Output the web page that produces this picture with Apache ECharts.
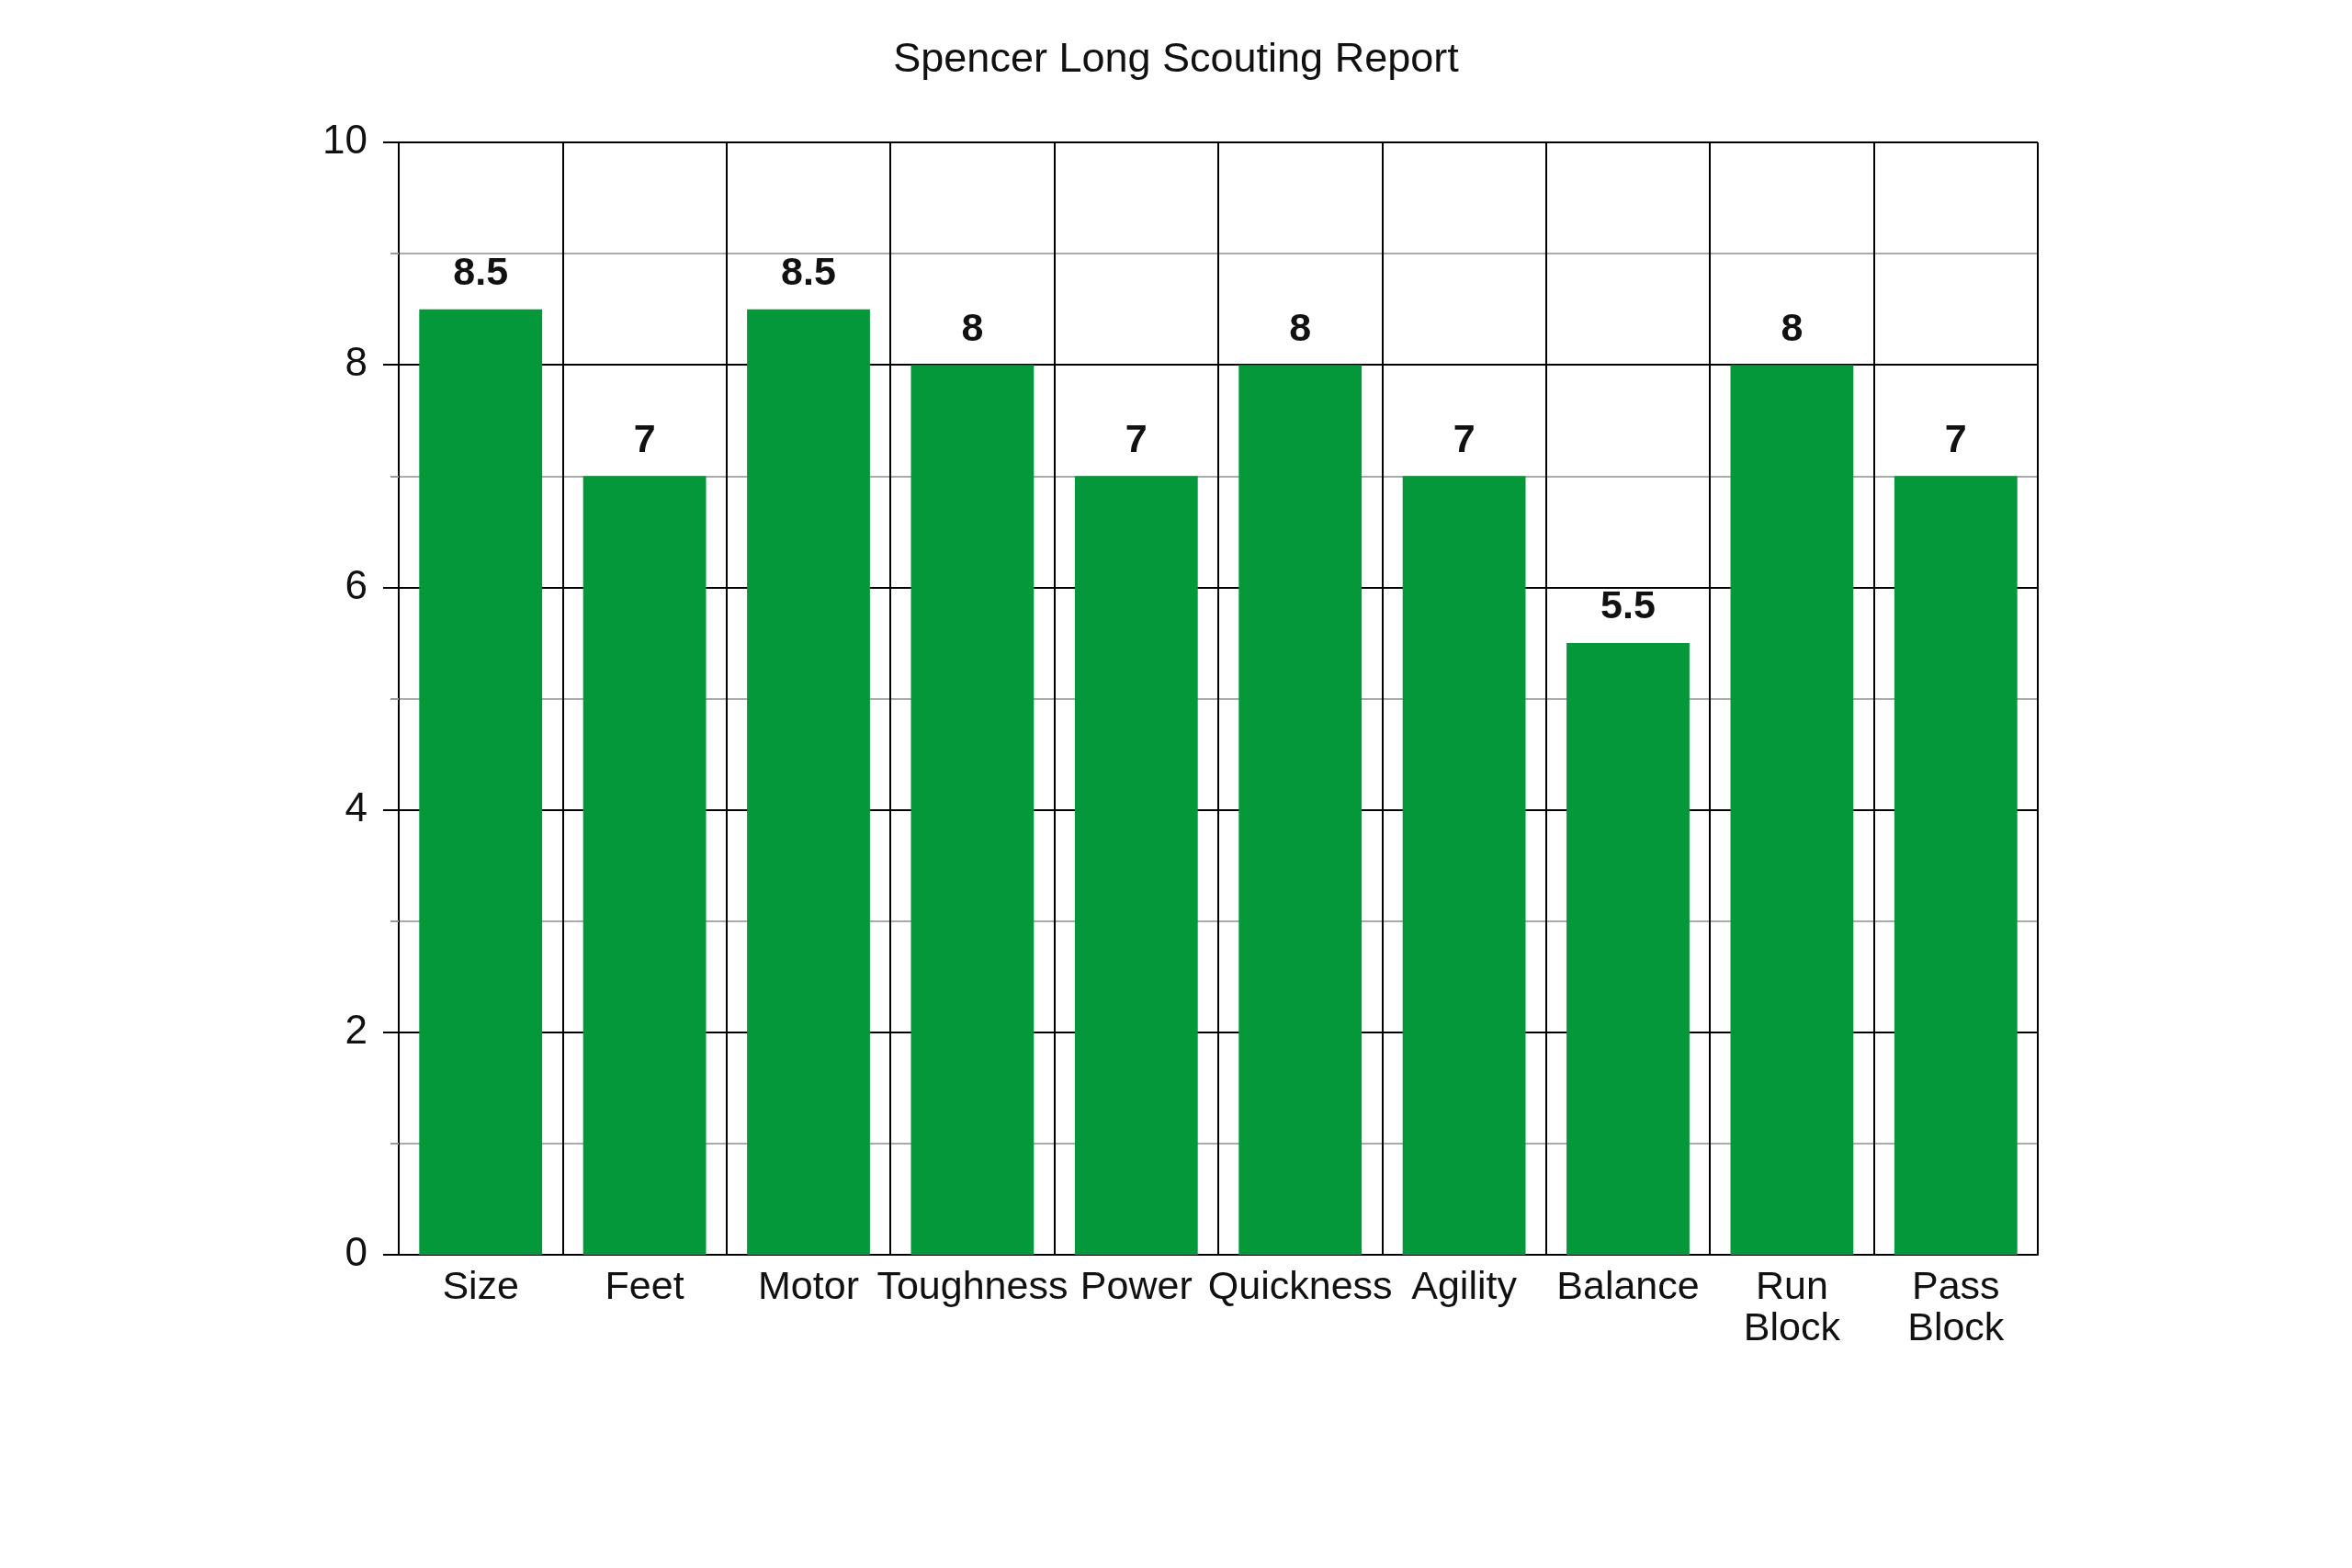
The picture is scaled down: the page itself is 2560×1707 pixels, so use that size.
<!DOCTYPE html>
<html>
<head>
<meta charset="utf-8">
<script src="https://cdn.jsdelivr.net/npm/echarts@6/dist/echarts.min.js"></script>
<style>
html, body { margin: 0; padding: 0; background: #fff; }
#chart { width: 2560px; height: 1707px; }
</style>
</head>
<body>
<div id="chart"></div>
<script>
var categories = ['Size', 'Feet', 'Motor', 'Toughness', 'Power', 'Quickness', 'Agility', 'Balance', 'Run\nBlock', 'Pass\nBlock'];
var scores = [8.5, 7, 8.5, 8, 7, 8, 7, 5.5, 8, 7];

var font = 'Liberation Sans, Arial, sans-serif';
var myChart = echarts.init(document.getElementById('chart'));

var option = {
    animation: false,
    title: {
        text: 'Spencer Long Scouting Report',
        left: 'center',
        top: 38,
        textStyle: { fontFamily: font, fontSize: 45, fontWeight: 'normal', color: '#111' }
    },
    grid: { left: 434, right: 342, top: 155, bottom: 341 },
    xAxis: {
        type: 'category',
        data: categories,
        axisLine: { lineStyle: { color: '#000', width: 2 } },
        axisTick: { length: 20, lineStyle: { color: '#000', width: 2 } },
        axisLabel: { fontFamily: font, fontSize: 43, color: '#111', margin: 14, lineHeight: 45, interval: 0 },
        splitLine: { show: true, lineStyle: { color: '#000', width: 2 } }
    },
    yAxis: {
        type: 'value',
        min: 0,
        max: 10,
        interval: 2,
        axisLine: { show: true, lineStyle: { color: '#000', width: 2 } },
        axisTick: { show: true, length: 17, lineStyle: { color: '#000', width: 2 } },
        axisLabel: { fontFamily: font, fontSize: 44, color: '#111', margin: 34 },
        splitLine: { show: true, lineStyle: { color: '#000', width: 2 } },
        minorTick: { show: true, splitNumber: 2, length: 9, lineStyle: { color: '#999', width: 2 } },
        minorSplitLine: { show: true, lineStyle: { color: '#aaa', width: 2 } }
    },
    series: [{
        type: 'bar',
        data: scores,
        barCategoryGap: '25%',
        itemStyle: { color: '#04983a' },
        label: {
            show: true,
            position: 'top',
            distance: 17,
            fontFamily: font,
            fontSize: 43,
            fontWeight: 'bold',
            color: '#111'
        }
    }]
};
myChart.setOption(option);
</script>
</body>
</html>
